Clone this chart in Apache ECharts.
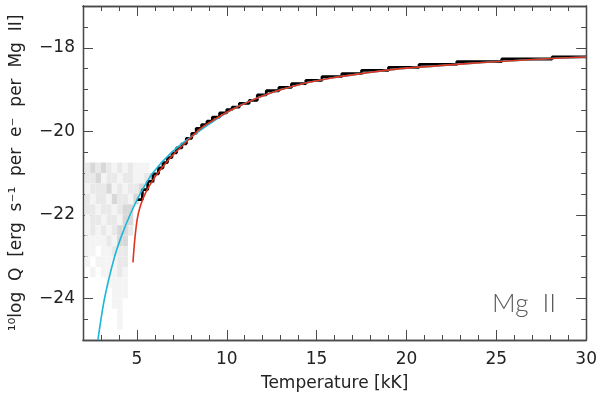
<!DOCTYPE html>
<html>
<head>
<meta charset="utf-8">
<script src="https://cdn.jsdelivr.net/npm/echarts@6/dist/echarts.min.js"></script>
<style>
  html, body { margin: 0; background: #fff; }
  #chart { width: 600px; height: 399px; }
</style>
</head>
<body>
<div id="chart"></div>
<script>
// axis ticks
const xMajor = [5, 10, 15, 20, 25, 30]
const yMajor = [-24, -22, -20, -18]

// fitted curves: [T (kK), log Q]
const redCurve = [
  [4.78, -23.14], [4.88, -22.6], [5.02, -22.1], [5.2, -21.78], [5.5, -21.46],
  [6.0, -21.1], [6.5, -20.82], [7.0, -20.57], [7.5, -20.36], [8.0, -20.15],
  [8.5, -19.95], [9.0, -19.8], [10.3, -19.48], [12.2, -19.12], [14.07, -18.88],
  [15.9, -18.72], [17.8, -18.6], [19.65, -18.5], [21.5, -18.44], [23.35, -18.38],
  [25.2, -18.33], [27.05, -18.28], [30, -18.22]
]
const cyanCurve = [
  [2.83, -25], [3.2, -24], [3.76, -23], [4.15, -22.5], [4.62, -22], [5.18, -21.5],
  [5.88, -21], [6.95, -20.5], [8.35, -20.03], [10.3, -19.48], [12.2, -19.12],
  [14.07, -18.88], [15.9, -18.72], [17.8, -18.6], [19.65, -18.5], [21.5, -18.44],
  [23.35, -18.38], [25.2, -18.33], [27.05, -18.28], [30, -18.22]
]

// histogram peak (black staircase): bin edges and level per bin
const stepEdges = [
  5.0, 5.3, 5.6, 5.9, 6.2, 6.45, 6.7, 6.95, 7.2, 7.5, 7.75, 8.05, 8.3, 8.6, 8.9,
  9.2, 9.6, 10.0, 10.3, 10.7, 11.25, 11.7, 12.2, 12.9, 13.6, 14.4, 15.3, 16.4,
  17.5, 19.0, 20.7, 22.8, 25.3, 28.1, 30.0
]
const stepValues = [
  -21.64, -21.4, -21.2, -21.02, -20.88, -20.75, -20.63, -20.52, -20.4, -20.3,
  -20.17, -20.05, -19.93, -19.84, -19.76, -19.66, -19.56, -19.48, -19.42, -19.33,
  -19.26, -19.13, -19.03, -18.95, -18.86, -18.78, -18.69, -18.62, -18.54, -18.47,
  -18.4, -18.33, -18.27, -18.22
]

// faint gray 2D histogram: columns (T centres), rows (log Q centres), counts
const histT = [2.25, 2.55, 2.85, 3.15, 3.45, 3.75, 4.05, 4.35, 4.65, 4.95, 5.25, 5.55, 5.85, 6.15]
const histQ = [
  -20.875, -21.125, -21.375, -21.625, -21.875, -22.125, -22.375, -22.625, -22.875,
  -23.125, -23.375, -23.625, -23.875, -24.125, -24.375, -24.625, -24.875
]
const histCounts = [
  [2, 3, 2, 3, 2, 1, 2, 1, 2, 1, 1, 1, 0, 0],
  [2, 2, 3, 1, 2, 2, 1, 2, 2, 1, 1, 2, 3, 0],
  [1, 2, 2, 2, 3, 1, 2, 1, 2, 2, 3, 0, 0, 0],
  [2, 1, 2, 2, 1, 3, 2, 2, 1, 3, 0, 0, 0, 0],
  [2, 2, 1, 2, 2, 1, 2, 3, 3, 0, 0, 0, 0, 0],
  [1, 2, 2, 1, 2, 2, 1, 3, 3, 0, 0, 0, 0, 0],
  [1, 2, 1, 2, 1, 2, 3, 3, 2, 0, 0, 0, 0, 0],
  [1, 1, 1, 1, 2, 1, 3, 3, 0, 0, 0, 0, 0, 0],
  [1, 1, 0, 1, 1, 2, 2, 2, 0, 0, 0, 0, 0, 0],
  [1, 0, 1, 1, 1, 1, 2, 2, 0, 0, 0, 0, 0, 0],
  [0, 1, 0, 1, 1, 1, 2, 1, 0, 0, 0, 0, 0, 0],
  [0, 0, 0, 0, 1, 1, 1, 1, 0, 0, 0, 0, 0, 0],
  [0, 0, 0, 0, 0, 1, 1, 1, 0, 0, 0, 0, 0, 0],
  [0, 0, 0, 0, 0, 1, 1, 0, 0, 0, 0, 0, 0, 0],
  [0, 0, 0, 0, 0, 0, 1, 0, 0, 0, 0, 0, 0, 0],
  [0, 0, 0, 0, 0, 0, 1, 0, 0, 0, 0, 0, 0, 0],
  [0, 0, 0, 0, 0, 0, 0, 0, 0, 0, 0, 0, 0, 0]
]

const binW = 0.3
const binH = 0.25
const grays = ['#ffffff', '#f4f4f4', '#e9e9e9', '#d8d8d8', '#bcbcbc']
const axisColor = '#4a4a4a'
const font = 'DejaVu Sans'

const histData = []
histCounts.forEach((row, j) => {
  row.forEach((c, i) => {
    if (c > 0) histData.push([histT[i], histQ[j], c])
  })
})

const stepData = stepValues.map((v, i) => [stepEdges[i], v])
stepData.push([stepEdges[stepEdges.length - 1], stepValues[stepValues.length - 1]])

function xAx(extra) {
  return Object.assign({
    type: 'value', min: 2, max: 30, interval: 1,
    axisLine: { show: true, onZero: false, lineStyle: { color: axisColor, width: 1.3 } },
    axisTick: { show: true, inside: true, length: 5, lineStyle: { color: axisColor } },
    axisLabel: { show: false },
    splitLine: { show: false }
  }, extra)
}
function yAx(extra) {
  return Object.assign({
    type: 'value', min: -25, max: -17, interval: 0.5,
    axisLine: { show: true, onZero: false, lineStyle: { color: axisColor, width: 1.3 } },
    axisTick: { show: true, inside: true, length: 5, lineStyle: { color: axisColor } },
    axisLabel: { show: false },
    splitLine: { show: false }
  }, extra)
}

const chart = echarts.init(document.getElementById('chart'))
chart.setOption({
  animation: false,
  backgroundColor: '#fff',
  grid: { left: 83, right: 12, top: 6, bottom: 59 },
  xAxis: [
    xAx({ position: 'bottom' }),
    xAx({
      position: 'bottom',
      name: 'Temperature [kK]',
      nameLocation: 'middle',
      nameGap: 35,
      nameTextStyle: { fontFamily: font, fontSize: 17, color: '#222' },
      axisTick: { show: true, inside: true, length: 10, customValues: xMajor, lineStyle: { color: axisColor } },
      axisLabel: { show: true, customValues: xMajor, margin: 11, fontFamily: font, fontSize: 17, color: '#222' }
    }),
    xAx({ position: 'top' }),
    xAx({
      position: 'top',
      axisTick: { show: true, inside: true, length: 10, customValues: xMajor, lineStyle: { color: axisColor } }
    })
  ],
  yAxis: [
    yAx({ position: 'left' }),
    yAx({
      position: 'left',
      name: '¹⁰log  Q  [erg  s⁻¹  per  e⁻  per  Mg  II]',
      nameLocation: 'middle',
      nameGap: 58,
      nameTextStyle: { fontFamily: font, fontSize: 17, color: '#222' },
      axisTick: { show: true, inside: true, length: 10, customValues: yMajor, lineStyle: { color: axisColor } },
      axisLabel: {
        show: true, customValues: yMajor, margin: 8, fontFamily: font, fontSize: 17, color: '#222',
        formatter: v => '−' + Math.abs(v)
      }
    }),
    yAx({ position: 'right' }),
    yAx({
      position: 'right',
      axisTick: { show: true, inside: true, length: 10, customValues: yMajor, lineStyle: { color: axisColor } }
    })
  ],
  graphic: [{
    type: 'text',
    left: 492,
    top: 291,
    style: { text: 'Mg  II', font: '300 26px Lato', fill: '#5a5a5a' }
  }],
  series: [
    {
      type: 'custom',
      xAxisIndex: 0,
      yAxisIndex: 0,
      clip: true,
      data: histData,
      renderItem: function (params, api) {
        const p0 = api.coord([api.value(0) - binW / 2, api.value(1) + binH / 2])
        const p1 = api.coord([api.value(0) + binW / 2, api.value(1) - binH / 2])
        return {
          type: 'rect',
          shape: { x: p0[0], y: p0[1], width: p1[0] - p0[0], height: p1[1] - p0[1] },
          style: { fill: grays[api.value(2)] }
        }
      },
      z: 1
    },
    {
      type: 'line',
      step: 'end',
      data: stepData,
      symbol: 'none',
      lineStyle: { color: '#000', width: 2.8 },
      z: 2
    },
    {
      type: 'line',
      data: cyanCurve,
      smooth: 0.3,
      symbol: 'none',
      lineStyle: { color: '#1fb6d8', width: 1.6 },
      z: 3
    },
    {
      type: 'line',
      data: redCurve,
      smooth: 0.3,
      symbol: 'none',
      lineStyle: { color: '#e0341f', width: 1.6 },
      z: 4
    }
  ]
})
</script>
</body>
</html>
